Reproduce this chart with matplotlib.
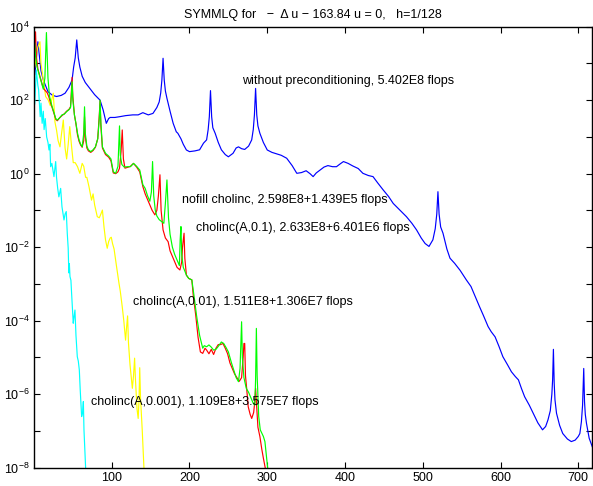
import numpy as np
import matplotlib
matplotlib.use("Agg")
import matplotlib.pyplot as plt
from matplotlib.ticker import FixedLocator, FuncFormatter

plt.rcParams['font.family'] = ['Liberation Sans', 'DejaVu Sans']
plt.rcParams['mathtext.default'] = 'regular'

# Residual histories: iteration number and log10 of residual norm
plain_it = [1, 3, 5, 7, 9, 12, 18, 24, 29, 35, 40, 45, 49, 51, 53, 55, 57, 59, 62, 66, 70, 78, 85,
            89, 93, 96, 98, 104, 110, 118, 127, 134, 140, 147, 153, 158, 161, 163, 164.5, 166,
            167.5, 169, 171, 175, 179, 183, 185, 189, 192, 196, 200, 207, 213, 218, 222, 224, 225.5,
            227, 228.5, 230, 233, 237, 241, 246, 250, 256, 260, 263, 267, 271, 276, 280, 282,
            283.5, 285, 286.5, 288, 290.5, 295, 300, 306, 312, 318, 325, 332, 338, 344, 350,
            355, 359, 363, 368, 373, 378, 384, 389, 394, 398, 404, 410, 417, 423, 430, 436,
            442, 449, 456, 462, 470, 479, 486, 492, 498, 503, 508, 513, 516, 518, 519.5, 521,
            523, 526, 531, 535, 541, 548, 556, 562, 567, 573, 578, 584, 588, 593, 598, 603,
            609, 614, 619, 623, 627, 631, 637, 642, 648, 654, 658, 661, 664, 666, 667, 668,
            669, 670, 672, 676, 680, 686, 691, 696, 700, 702, 704, 705.5, 707, 708, 709, 710.5,
            714, 718]
plain_lg = [2.70, 3.10, 3.59, 3.20, 2.80, 2.55, 2.23, 2.13, 2.10, 2.13, 2.19, 2.35, 2.55, 2.90,
            3.15, 3.64, 3.15, 2.90, 2.65, 2.48, 2.37, 2.15, 2.00, 1.73, 1.37, 1.50, 1.53, 1.53,
            1.55, 1.58, 1.60, 1.60, 1.66, 1.60, 1.64, 1.80, 1.95, 2.20, 2.55, 3.14, 2.55, 2.25,
            2.05, 1.70, 1.37, 1.14, 1.10, 0.95, 0.80, 0.645, 0.60, 0.62, 0.65, 0.83, 0.92, 1.20, 1.55,
            2.26, 1.55, 1.25, 1.10, 0.85, 0.65, 0.52, 0.46, 0.555, 0.70, 0.73, 0.68, 0.66,
            0.75, 0.92, 1.20, 1.60, 2.32, 1.60, 1.30, 1.10, 0.85, 0.645, 0.58, 0.54, 0.50,
            0.42, 0.22, 0.01, 0.03, 0.08, 0.00, -0.08, 0.02, 0.10, 0.18, 0.22, 0.19, 0.19,
            0.27, 0.33, 0.28, 0.21, 0.14, 0.01, -0.05, -0.08, -0.25, -0.44, -0.62, -0.81,
            -0.98, -1.17, -1.35, -1.53, -1.75, -1.90, -1.98, -1.80, -1.50, -1.10, -0.49, -1.10,
            -1.45, -1.62, -2.05, -2.30, -2.44, -2.63, -2.89, -3.07, -3.32, -3.62, -3.86, -4.16,
            -4.30, -4.44, -4.70, -4.98, -5.20, -5.39, -5.52, -5.61, -5.85, -6.07, -6.30, -6.52,
            -6.78, -6.97, -6.88, -6.70, -6.45, -6.00, -5.60, -4.78, -5.70, -6.15, -6.52, -6.85,
            -7.07, -7.22, -7.29, -7.25, -7.15, -7.07, -6.75, -6.30, -5.30, -6.20, -6.55, -6.79,
            -7.20, -7.43]

nofill_it = [1, 2, 4, 6, 8, 10, 12, 14, 16, 18, 20, 23, 26, 28, 30, 33, 36, 39, 42, 45, 47, 48,
             49, 50, 52, 54, 56, 58, 60, 62, 64, 65, 66, 68, 70, 73, 76, 79, 82, 84, 85, 86,
             88, 92, 96, 99, 102, 105, 108, 110, 111, 113, 116, 120, 124, 128, 132, 136, 140,
             143, 146, 149, 151, 152.5, 154, 156, 158, 161, 164, 167, 169, 171, 173, 175, 178,
             181, 184, 187, 188, 189, 190, 192, 194, 196, 199, 203, 206, 209, 213, 217, 219,
             222, 225, 228, 231, 234, 237, 241, 244, 247, 250, 254, 257, 260, 263, 265, 267,
             268, 270, 273, 276, 279, 282, 284, 285, 286, 287, 289, 291, 295, 297, 299, 301]
nofill_lg = [3.55, 3.20, 2.90, 2.75, 2.60, 2.45, 2.30, 2.60, 3.84, 2.60, 2.10, 1.85, 1.64, 1.50,
             1.46, 1.52, 1.60, 1.62, 1.69, 1.74, 1.80, 2.10, 2.50, 2.00, 1.60, 1.37, 1.10, 0.92,
             0.80, 0.73, 1.10, 1.82, 1.10, 0.75, 0.65, 0.60, 0.65, 0.73, 0.95, 1.50, 2.00, 1.40,
             0.73, 0.555, 0.48, 0.40, 0.05, 0.01, 0.20, 1.30, 0.50, 0.25, 0.18, 0.19, 0.19,
             0.28, 0.20, 0.10, -0.30, -0.40, -0.60, -0.75, -0.50, 0.33, -0.60, -1.00, -1.15,
             -1.25, -1.30, -1.35, -0.80, -0.17, -1.20, -1.65, -2.00, -2.20, -2.35, -2.50,
             -1.80, -1.44, -2.20, -2.55, -2.65, -2.76, -2.85, -2.89, -3.35, -3.85, -4.40,
             -4.75, -4.68, -4.71, -4.66, -4.72, -4.80, -4.78, -4.70, -4.58, -4.62, -4.73,
             -4.85, -5.15, -5.35, -5.55, -5.66, -5.30, -4.03, -5.00, -5.55, -5.84, -5.95,
             -6.10, -6.25, -6.30, -5.60, -4.21, -5.50, -6.60, -6.97, -7.15, -7.29, -7.70, -8.10]

tol1_it = [1, 2, 3, 5, 7, 9, 11, 13, 15, 17, 19, 21, 23, 26, 28, 30, 33, 36, 39, 42, 45, 47, 48,
           49, 50, 52, 54, 56, 58, 60, 62, 64, 65, 66, 68, 70, 73, 76, 79, 82, 84, 85, 86, 88,
           92, 96, 99, 102, 105, 108, 110, 112, 113.5, 115, 117, 120, 124, 128, 132, 136, 140,
           143, 146, 149, 152, 155.5, 158, 160, 162, 163.5, 166, 169, 172.5, 175, 178, 181,
           184, 187.7, 190, 191, 193, 194, 196, 199, 203, 205, 208, 211, 214, 217, 220, 222,
           225, 228, 231, 234, 237, 240, 243, 246, 249, 252, 255, 258, 261, 264, 267, 269,
           270, 271, 272, 273.5, 275.5, 278, 280, 282.5, 284, 285, 286, 288, 290.5, 293, 295,
           297.8]
tol1_lg = [3.30, 3.86, 3.20, 2.85, 2.70, 2.55, 2.40, 2.30, 2.25, 2.20, 2.10, 1.95, 1.82, 1.62,
           1.48, 1.44, 1.52, 1.58, 1.63, 1.70, 1.75, 1.82, 2.20, 2.62, 2.10, 1.60, 1.35, 1.05,
           0.88, 0.78, 0.72, 0.90, 1.55, 1.00, 0.70, 0.62, 0.58, 0.63, 0.72, 0.95, 1.60, 1.98,
           1.30, 0.70, 0.52, 0.45, 0.35, 0.02, 0.00, 0.05, 0.15, 0.60, 1.19, 0.40, 0.15, 0.17,
           0.20, 0.28, 0.18, 0.05, -0.35, -0.55, -0.70, -0.85, -1.00, -1.12, -1.00, -0.60,
           -0.03, -1.00, -1.53, -1.75, -1.85, -2.10, -2.25, -2.40, -2.55, -2.62, -2.40, -2.00,
           -1.62, -2.30, -2.76, -2.85, -2.89, -3.35, -3.85, -4.45, -4.85, -4.89, -4.75, -4.80,
           -4.90, -4.78, -4.92, -4.75, -4.65, -4.65, -4.62, -4.75, -4.90, -5.15, -5.30, -5.45,
           -5.55, -5.65, -5.55, -5.00, -4.62, -4.62, -5.50, -5.84, -6.34, -6.55, -6.66, -6.50,
           -6.20, -5.84, -6.20, -6.90, -7.15, -7.50, -7.74, -8.05]

tol2_it = [1, 3, 5, 7.7, 9, 12, 15, 18.4, 21, 24.8, 27, 29, 31, 33.4, 35.5, 37.7, 40, 42, 44, 46,
           48.4, 50.5, 53, 56, 59, 62, 64, 66.4, 68, 70.7, 74, 76, 78, 81.4, 84, 86, 88, 90, 92,
           94.2, 96, 98, 99.4, 101, 103, 106, 109.3, 111, 113.5, 115.5, 117.8, 119, 120.4,
           121.5, 123.5, 126.5, 128, 129.4, 130.5, 132.5, 134, 135, 136, 137, 139.2, 141.4]
tol2_lg = [2.90, 3.20, 3.45, 3.59, 3.00, 2.55, 2.10, 2.00, 1.85, 2.19, 1.40, 1.19, 0.90, 0.73,
           1.10, 1.46, 0.70, 0.40, 0.80, 1.28, 0.73, 0.30, 0.30, 0.19, 0.01, 0.28, 0.20, -0.10,
           -0.10, -0.35, -0.72, -0.55, -0.85, -1.17, -1.20, -1.10, -0.99, -1.44, -1.80, -2.03,
           -1.85, -1.75, -1.73, -1.90, -2.05, -2.50, -2.98, -3.20, -3.62, -4.00, -4.53, -4.20,
           -3.87, -4.60, -5.20, -5.84, -5.50, -5.02, -5.60, -6.40, -6.66, -6.20, -5.28, -6.10,
           -6.97, -8.00]

tol3_it = [1, 3, 5, 6, 7, 8, 9, 10.5, 12, 13, 14.5, 16.3, 18, 19.3, 20.5, 21.4, 23, 25.7, 27.9,
           29, 30.5, 32, 34.3, 36, 38.6, 40, 41.5, 42.8, 44, 44.8, 45.5, 46.3, 47.5, 48.5, 50.5, 51.5,
           52.7, 54, 55.7, 57, 58.3, 59.5, 61.3, 62.5, 63.5, 64.3, 66.4]
tol3_lg = [1.90, 2.82, 2.40, 2.28, 1.90, 1.55, 1.92, 1.37, 1.70, 1.20, 1.50, 1.00, 0.85, 0.645,
           0.80, 0.19, 0.28, -0.08, 0.33, -0.10, -0.40, -0.63, -0.40, -0.90, -1.26, -1.10,
           -1.03, -1.62, -2.03, -2.70, -2.45, -2.80, -2.90, -3.30, -4.07, -3.90, -3.71, -4.40, -4.98,
           -5.10, -5.34, -5.90, -6.61, -6.50, -6.20, -6.97, -8.00]

labels = ["without preconditioning, 5.402E8 flops",
          "nofill cholinc, 2.598E8+1.439E5 flops",
          "cholinc(A,0.1), 2.633E8+6.401E6 flops",
          "cholinc(A,0.01), 1.511E8+1.306E7 flops",
          "cholinc(A,0.001), 1.109E8+3.575E7 flops"]
label_it = [267, 191, 208, 127.6, 72.9]
label_lg = [2.52, -0.72, -1.49, -3.48, -6.20]

fig = plt.figure(figsize=(5.93, 4.86), dpi=100)
ax = fig.add_axes([0.0573, 0.0377, 0.9415, 0.9074])

lw = 0.85
ax.plot(plain_it, 10.0 ** np.array(plain_lg), color=(0, 0, 1), lw=lw)
ax.plot(tol3_it, 10.0 ** np.array(tol3_lg), color=(0, 1, 1), lw=lw)
ax.plot(tol2_it, 10.0 ** np.array(tol2_lg), color=(1, 1, 0), lw=lw)
ax.plot(tol1_it, 10.0 ** np.array(tol1_lg), color=(1, 0, 0), lw=lw)
ax.plot(nofill_it, 10.0 ** np.array(nofill_lg), color=(0, 1, 0), lw=lw)

ax.set_yscale('log')
ax.set_xlim(0, 718)
ax.set_ylim(1e-8, 1e4)

ax.xaxis.set_major_locator(FixedLocator([100, 200, 300, 400, 500, 600, 700]))
ax.yaxis.set_major_locator(FixedLocator([10.0 ** k for k in range(-8, 5)]))
ax.yaxis.set_minor_locator(FixedLocator([]))


def ylab(v, pos):
    k = int(round(np.log10(v)))
    if k % 2:
        return ''
    return r'$10^{%d}$' % k


ax.yaxis.set_major_formatter(FuncFormatter(ylab))
ax.tick_params(which='both', direction='in', top=True, right=True, length=4,
               width=0.8, labelsize=9, pad=3)
for s in ax.spines.values():
    s.set_linewidth(1.0)

for t, xi, yl in zip(labels, label_it, label_lg):
    ax.text(xi, 10.0 ** yl, t, fontsize=9, ha='left', va='center')

ax.set_title("SYMMLQ for   \u2212  \u0394 u \u2212 163.84 u = 0,   h=1/128", fontsize=9, pad=6)

fig.savefig("out.png", dpi=100)
